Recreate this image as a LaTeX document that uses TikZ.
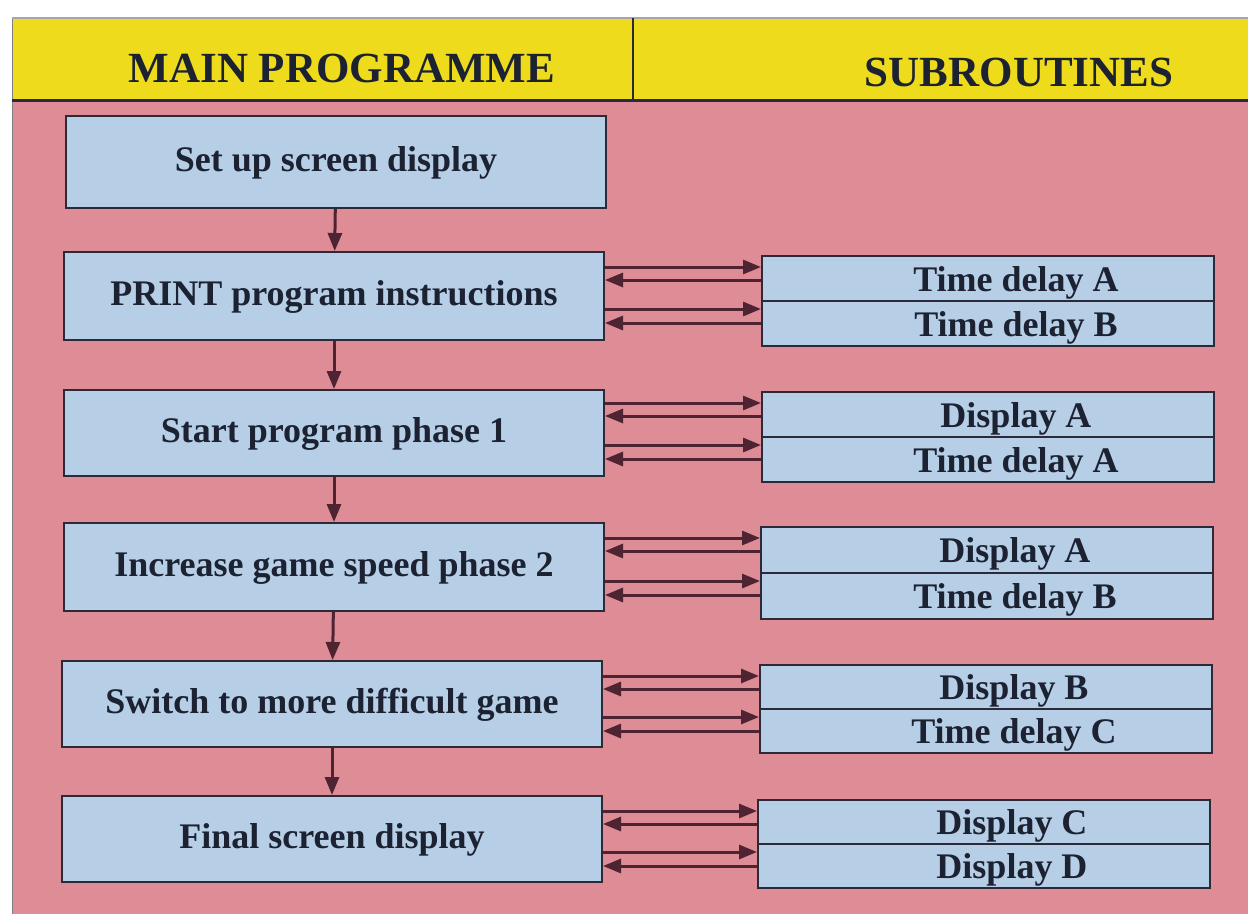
\documentclass[tikz,border=0pt]{standalone}
\usepackage{fontspec}
\setmainfont{Liberation Serif}
\usetikzlibrary{arrows.meta}
\definecolor{pinkbg}{HTML}{DE8C95}
\definecolor{boxblue}{HTML}{B6CFE6}
\definecolor{hdryellow}{HTML}{EEDC1C}
\definecolor{boxline}{HTML}{2C2A38}
\definecolor{arrcol}{HTML}{4E2432}
\definecolor{txt}{HTML}{1C2232}
\begin{document}
\begin{tikzpicture}[x=1pt,y=-1pt,
  mbox/.style={draw=boxline, line width=2pt, fill=boxblue, minimum width=540pt, minimum height=88pt, inner sep=0pt, text height=26pt, text depth=7pt, font=\fontsize{36}{40}\selectfont\bfseries, text=txt},
  sbox/.style={draw=boxline, line width=2pt, fill=boxblue, minimum width=452pt, minimum height=45pt, inner sep=0pt, text height=29pt, text depth=4pt, font=\fontsize{36}{40}\selectfont\bfseries, text=txt},
  hdrtext/.style={inner sep=0pt, font=\fontsize{43}{48}\selectfont\bfseries, text=txt},
  arr/.style={draw=arrcol, line width=3pt, -{Triangle[length=18pt,width=14pt]}}]
\useasboundingbox (0,0) rectangle (1248,914);
\fill[white] (0,0) rectangle (1248,914);
% header band and body
\fill[hdryellow] (12,18) rectangle (1248,100);
\fill[pinkbg] (12,100) rectangle (1248,914);
\draw[gray, line width=1pt] (12,18) -- (12,914);
\draw[gray!70, line width=1.5pt] (12,18) -- (1248,18);
\draw[boxline, line width=3pt] (12,100) -- (1248,100);
\draw[boxline, line width=1.5pt] (633,18) -- (633,100);
\node[hdrtext] (hm) at (342,68) {MAIN PROGRAMME};
\node[hdrtext] (hs) at (1019,72) {SUBROUTINES};
% main programme boxes
\node[mbox, minimum height=92pt] (m1) at (336,162) {Set up screen display};
\node[mbox] (m2) at (334,296) {PRINT program instructions};
\node[mbox, minimum height=86pt] (m3) at (334,433) {Start program phase 1};
\node[mbox] (m4) at (334,567) {Increase game speed phase 2};
\node[mbox, minimum height=86pt] (m5) at (332,704) {Switch to more difficult game};
\node[mbox, minimum height=86pt] (m6) at (332,839) {Final screen display};
% subroutine boxes
\node[sbox] (st1) at (988,278.5) {\hspace*{56pt}Time delay A};
\node[sbox] (sb1) at (988,323.5) {\hspace*{56pt}Time delay B};
\node[sbox] (st2) at (988,414.5) {\hspace*{56pt}Display A};
\node[sbox] (sb2) at (988,459.5) {\hspace*{56pt}Time delay A};
\node[sbox, minimum height=46pt] (st3) at (987,550) {\hspace*{56pt}Display A};
\node[sbox, minimum height=46pt] (sb3) at (987,596) {\hspace*{56pt}Time delay B};
\node[sbox, minimum height=44pt] (st4) at (986,687) {\hspace*{56pt}Display B};
\node[sbox, minimum height=44pt] (sb4) at (986,731) {\hspace*{56pt}Time delay C};
\node[sbox, minimum height=44pt] (st5) at (984,822) {\hspace*{56pt}Display C};
\node[sbox, minimum height=44pt] (sb5) at (984,866) {\hspace*{56pt}Display D};
% main flow
\draw[arr] (m1) -- (m2);
\draw[arr] (m2) -- (m3);
\draw[arr] (m3) -- (m4);
\draw[arr] (m4) -- (m5);
\draw[arr] (m5) -- (m6);
% calls and returns
\foreach \m/\s in {2/1,3/2,4/3,5/4,6/5}{
  \coordinate (p1) at ([yshift=-12pt]st\s.north west);
  \coordinate (p2) at ([yshift=-25pt]st\s.north west);
  \coordinate (p3) at ([yshift=-9pt]sb\s.north west);
  \coordinate (p4) at ([yshift=-23pt]sb\s.north west);
  \draw[arr] (m\m.east |- p1) -- (p1);
  \draw[arr] (p2) -- (m\m.east |- p2);
  \draw[arr] (m\m.east |- p3) -- (p3);
  \draw[arr] (p4) -- (m\m.east |- p4);
}
\end{tikzpicture}
\end{document}
